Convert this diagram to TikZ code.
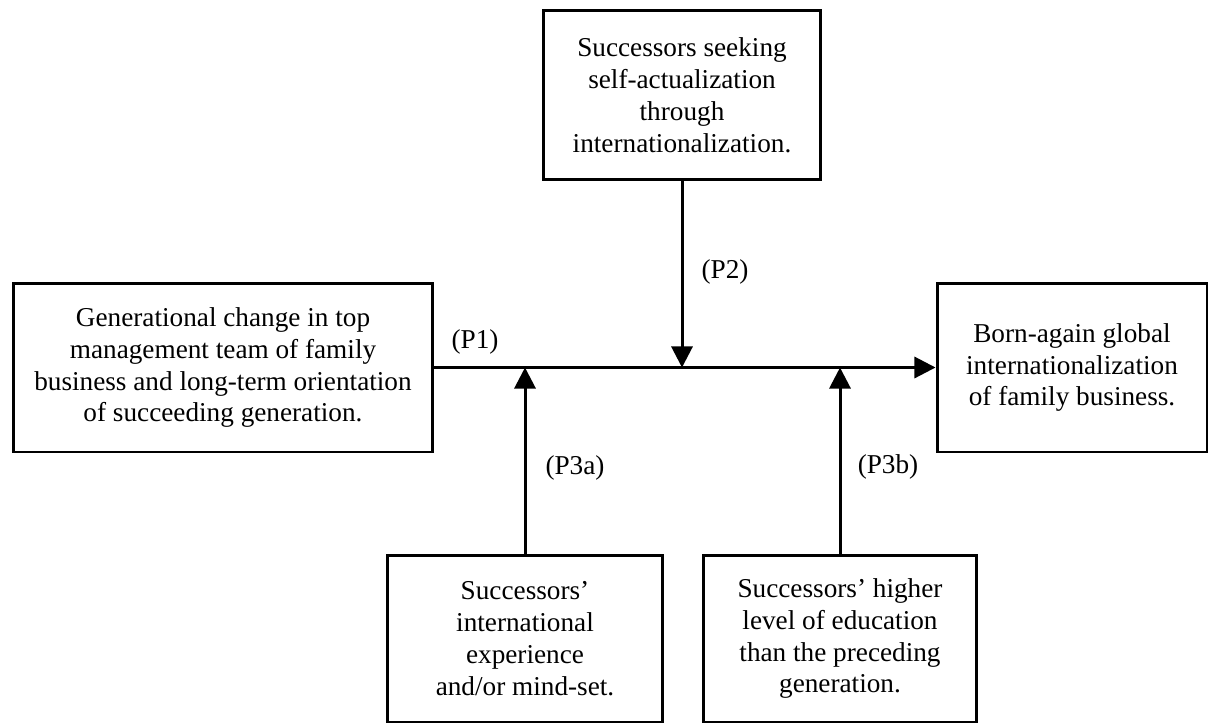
\documentclass[tikz,border=0pt]{standalone}
\usepackage{fontspec}
\setmainfont{Liberation Serif}
\usetikzlibrary{arrows.meta}

\begin{document}
\begin{tikzpicture}[x=0.02cm, y=-0.02cm, >={Triangle[length=12pt,width=12pt]},
    box/.style={draw, line width=1.7pt, align=center, inner sep=0pt,
        font=\fontsize{15.5}{18.2}\selectfont},
    lbl/.style={font=\fontsize{15.5}{18}\selectfont},
    link/.style={->, line width=1.7pt}]
    \useasboundingbox (0,0) rectangle (1209,724);

    % Nodes {gen, born, seek, exper, edu}
    \node [box, minimum width=8.4cm, minimum height=3.38cm] (gen) at (223,367.5)
        {Generational change in top\\ management team of family\\ business and long-term orientation\\ of succeeding generation.};
    \node [box, minimum width=5.4cm, minimum height=3.38cm] (born) at (1072,367.5)
        {Born-again global\\ internationalization\\ of family business.};
    \node [box, minimum width=5.56cm, minimum height=3.4cm] (seek) at (682,95)
        {Successors seeking\\ self-actualization\\ through\\ internationalization.};
    \node [box, minimum width=5.52cm, minimum height=3.34cm] (exper) at (525,638.5)
        {Successors'\\ international\\ experience\\ and/or mind-set.};
    \node [box, minimum width=5.48cm, minimum height=3.34cm] (edu) at (840,638.5)
        {Successors' higher\\ level of education\\ than the preceding\\ generation.};

    % Junctions on the main path
    \coordinate (j2)  at (682,367.5);
    \coordinate (j3a) at (525,367.5);
    \coordinate (j3b) at (840,367.5);

    % Paths
    \draw [link] (gen.east)    -- (born.west);
    \draw [link] (seek.south)  -- (j2);
    \draw [link] (exper.north) -- (j3a);
    \draw [link] (edu.north)   -- (j3b);

    % Labels
    \node [lbl] (p1)  at (475,342) {(P1)};
    \node [lbl] (p2)  at (725,272) {(P2)};
    \node [lbl] (p3a) at (575,468) {(P3a)};
    \node [lbl] (p3b) at (888,467) {(P3b)};
\end{tikzpicture}
\end{document}
